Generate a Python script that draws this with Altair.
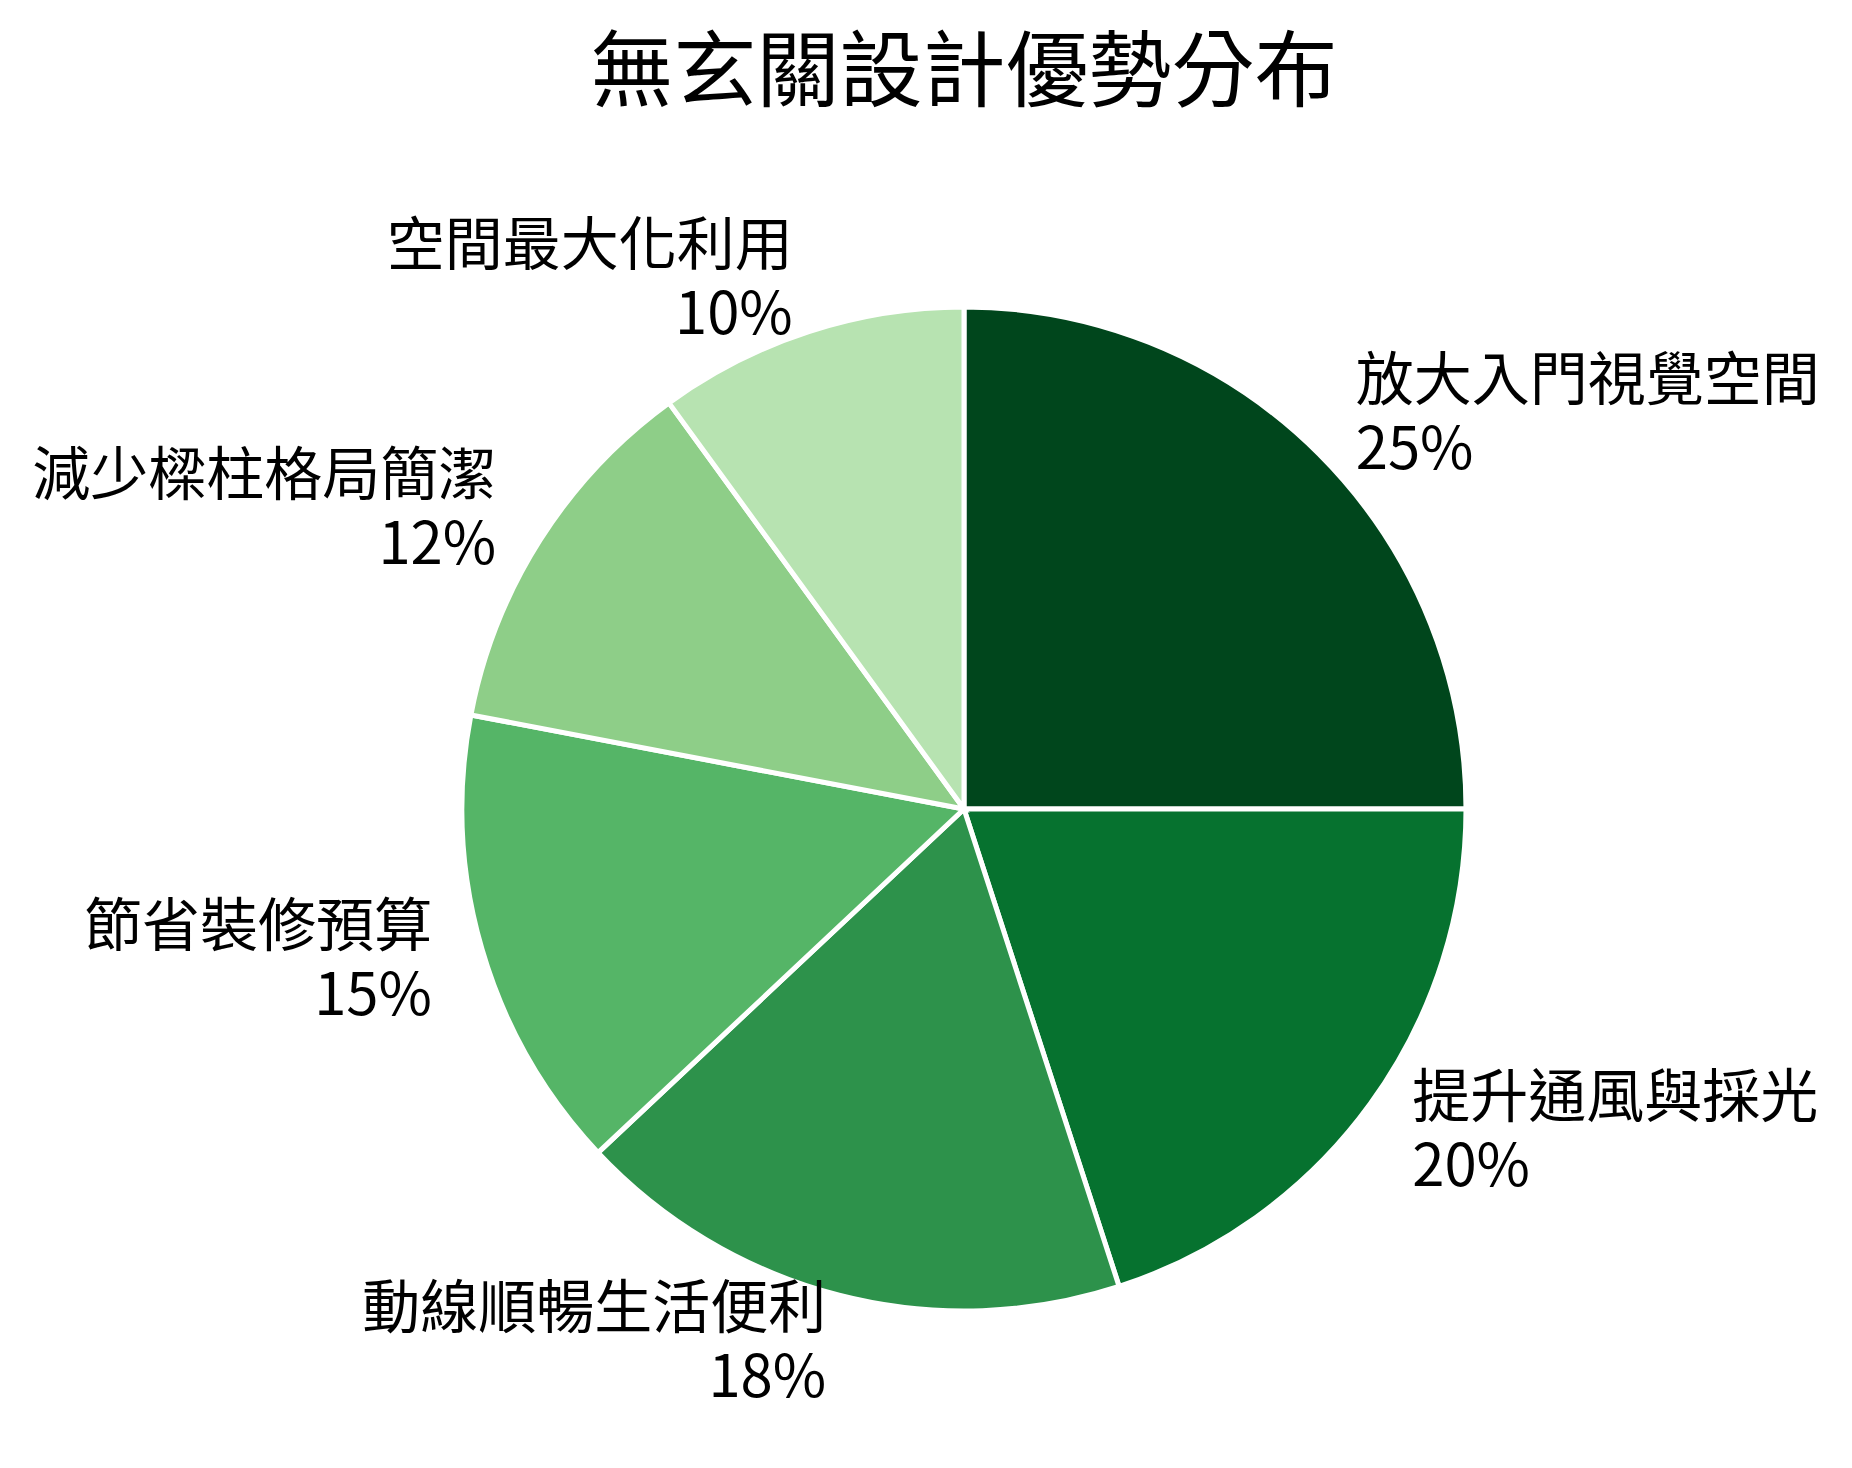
import altair as alt
import pandas as pd

categories = ["放大入門視覺空間", "提升通風與採光", "動線順暢生活便利",
              "節省裝修預算", "減少樑柱格局簡潔", "空間最大化利用"]
values = [25, 20, 18, 15, 12, 10]
colors = ["#00461c", "#06722f", "#2d924b", "#55b567", "#8ece88", "#b7e3b1"]
title_text = "無玄關設計優勢分布"

df = pd.DataFrame({
    "category": categories,
    "value": values,
    "idx": list(range(len(categories))),
})

FONT = "Noto Sans CJK TC"
CX, CY = 956, 671
R = 502
RL = 554
FS = 58
LH = 69

base = alt.Chart(df).transform_window(
    cum="sum(value)", sort=[alt.SortField("idx")]
).transform_joinaggregate(
    total="sum(value)"
).transform_calculate(
    mid="(datum.cum - datum.value / 2) / datum.total",
    label="datum.category + '\\n' + datum.value + '%'",
).encode(
    theta=alt.Theta("value:Q", stack=True),
    order=alt.Order("idx:Q", sort="ascending"),
    x=alt.value(CX),
    y=alt.value(CY),
)

arcs = base.mark_arc(outerRadius=R, stroke="white", strokeWidth=5).encode(
    color=alt.Color("category:N", scale=alt.Scale(domain=categories, range=colors), legend=None),
)

right_labels = base.transform_calculate(
    txt="datum.mid < 0.5 ? datum.label : ''"
).mark_text(
    radius=RL, align="left", baseline="middle", font=FONT, fontSize=FS,
    lineHeight=LH, lineBreak="\n", color="black", dy=-LH / 2,
).encode(text="txt:N")

left_labels = base.transform_calculate(
    txt="datum.mid >= 0.5 ? datum.label : ''"
).mark_text(
    radius=RL, align="right", baseline="middle", font=FONT, fontSize=FS,
    lineHeight=LH, lineBreak="\n", color="black", dy=-LH / 2,
).encode(text="txt:N")

chart = alt.layer(arcs, right_labels, left_labels).properties(
    width=1836,
    height=1322,
    padding={"left": 0, "right": 0, "top": 130, "bottom": 0},
    autosize=alt.AutoSizeParams(type="none"),
    title=alt.TitleParams(
        text=title_text, font=FONT, fontSize=83, fontWeight="normal",
        color="black", anchor="middle", baseline="bottom", offset=-62,
        dx=38,
    ),
).configure_view(stroke=None)

chart.save("out.html", embed_options={"renderer": "svg", "actions": False})
